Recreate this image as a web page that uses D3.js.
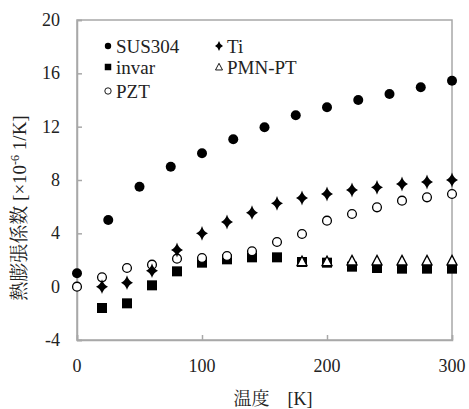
<!DOCTYPE html>
<html><head><meta charset="utf-8">
<script src="https://cdn.jsdelivr.net/npm/d3@7"></script>
<style>
body{margin:0;background:#fff;}
svg{display:block;}
svg text{font-family:"Liberation Serif","Noto Serif CJK JP","Noto Sans CJK JP",serif;}
</style>
</head><body>
<svg id="c" width="469" height="409"></svg>
<script>
const xTicks = [0, 100, 200, 300];
const yTicks = [-4, 0, 4, 8, 12, 16, 20];

const susX = [0, 25, 50, 75, 100, 125, 150, 175, 200, 225, 250, 275, 300];
const susY = [1.0, 5.0, 7.5, 9.0, 10.0, 11.05, 11.95, 12.85, 13.45, 14.0, 14.45, 14.95, 15.45];
const tiX = [20, 40, 60, 80, 100, 120, 140, 160, 180, 200, 220, 240, 260, 280, 300];
const tiY = [0.0, 0.3, 1.2, 2.75, 4.0, 4.85, 5.55, 6.25, 6.65, 6.95, 7.25, 7.45, 7.7, 7.85, 8.0];
const invarX = [20, 40, 60, 80, 100, 120, 140, 160, 180, 200, 220, 240, 260, 280, 300];
const invarY = [-1.6, -1.25, 0.1, 1.15, 1.8, 2.05, 2.2, 2.2, 1.85, 1.8, 1.5, 1.4, 1.35, 1.35, 1.35];
const pmnX = [180, 200, 220, 240, 260, 280, 300];
const pmnY = [1.9, 1.9, 1.95, 1.95, 1.95, 1.95, 1.95];
const pztX = [0, 20, 40, 60, 80, 100, 120, 140, 160, 180, 200, 220, 240, 260, 280, 300];
const pztY = [0.0, 0.7, 1.4, 1.65, 2.1, 2.15, 2.3, 2.65, 3.35, 3.95, 4.95, 5.45, 5.95, 6.45, 6.7, 6.95];

const svg = d3.select("#c");
const x = d3.scaleLinear().domain([0, 300]).range([77, 452]);
const y = d3.scaleLinear().domain([-4, 20]).range([340, 20]);
const frameColor = "#a8a8a8";
const txt = "#222";

// frame
svg.append("rect").attr("x", x(0)).attr("y", y(20))
  .attr("width", x(300) - x(0)).attr("height", y(-4) - y(20))
  .attr("fill", "none").attr("stroke", frameColor).attr("stroke-width", 1.5);

// axes (ticks inward)
const gx = svg.append("g").attr("transform", `translate(0,${y(-4)})`)
  .call(d3.axisTop(x).tickValues(xTicks).tickSize(5).tickFormat(""));
const gy = svg.append("g").attr("transform", `translate(${x(0)},0)`)
  .call(d3.axisRight(y).tickValues(yTicks).tickSize(5).tickFormat(""));
[gx, gy].forEach(g => {
  g.select(".domain").attr("stroke", frameColor).attr("stroke-width", 1.5);
  g.selectAll(".tick line").attr("stroke", frameColor).attr("stroke-width", 1.5);
});

// tick labels
svg.append("g").selectAll("text").data(xTicks).join("text")
  .attr("x", d => x(d)).attr("y", 372).attr("text-anchor", "middle")
  .style("font-size", "18px").attr("fill", txt)
  .text(d => d);
svg.append("g").selectAll("text").data(yTicks).join("text")
  .attr("x", 60).attr("y", d => y(d) + 6).attr("text-anchor", "end")
  .style("font-size", "18px").attr("fill", txt)
  .text(d => d);

// axis titles
svg.append("text").attr("x", 273).attr("y", 405).attr("text-anchor", "middle")
  .style("font-size", "18px").attr("fill", txt)
  .text("温度　[K]");
const yl = svg.append("text").attr("transform", "translate(26,208) rotate(-90)")
  .attr("text-anchor", "middle").style("font-size", "19px").attr("fill", txt);
yl.append("tspan").text("熱膨張係数 [×10");
yl.append("tspan").style("font-size", "12px").attr("dy", -7).text("-6");
yl.append("tspan").attr("dy", 7).text(" 1/K]");

// markers
const diamondPath = (s) => {
  const h = s * 0.62, w = s * 0.5;
  return `M0,${-h}Q${w*0.25},${-h*0.25} ${w},0Q${w*0.25},${h*0.25} 0,${h}Q${-w*0.25},${h*0.25} ${-w},0Q${-w*0.25},${-h*0.25} 0,${-h}Z`;
};
const squarePath = (s) => { const r = s / 2; return `M${-r},${-r}H${r}V${r}H${-r}Z`; };
const triPath = (s) => { const r = s / 2; return `M0,${-r*1.05}L${r},${r*0.85}L${-r},${r*0.85}Z`; };

function drawSeries(xs, ys, kind, size) {
  const g = svg.append("g");
  const data = xs.map((v, i) => [v, ys[i]]);
  if (kind === "circle" || kind === "ocircle") {
    g.selectAll("circle").data(data).join("circle")
      .attr("cx", d => x(d[0])).attr("cy", d => y(d[1])).attr("r", kind === "circle" ? size / 2 : size / 2 - 0.6)
      .attr("fill", kind === "circle" ? "#000" : "#fff")
      .attr("stroke", "#000").attr("stroke-width", kind === "circle" ? 0 : 1.3);
  } else {
    const p = kind === "diamond" ? diamondPath(size) : kind === "square" ? squarePath(size) : triPath(size);
    g.selectAll("path").data(data).join("path")
      .attr("transform", d => `translate(${x(d[0])},${y(d[1])})`).attr("d", p)
      .attr("fill", kind === "tri" ? "#fff" : "#000")
      .attr("stroke", "#000").attr("stroke-width", kind === "tri" ? 1.3 : 0);
  }
}
drawSeries(susX, susY, "circle", 10);
drawSeries(invarX, invarY, "square", 10);
drawSeries(pztX, pztY, "ocircle", 10);
drawSeries(tiX, tiY, "diamond", 12);
drawSeries(pmnX, pmnY, "tri", 10);

// legend
const legend = [
  {label: "SUS304", kind: "circle", lx: 108, ly: 46},
  {label: "invar", kind: "square", lx: 108, ly: 67},
  {label: "PZT", kind: "ocircle", lx: 108, ly: 91},
  {label: "Ti", kind: "diamond", lx: 219, ly: 46},
  {label: "PMN-PT", kind: "tri", lx: 219, ly: 67},
];
legend.forEach(l => {
  const g = svg.append("g").attr("transform", `translate(${l.lx},${l.ly})`);
  if (l.kind === "circle" || l.kind === "ocircle") {
    g.append("circle").attr("r", 3.2).attr("fill", l.kind === "circle" ? "#000" : "#fff")
      .attr("stroke", "#000").attr("stroke-width", l.kind === "circle" ? 0 : 0.9);
  } else {
    const p = l.kind === "diamond" ? diamondPath(8) : l.kind === "square" ? squarePath(6.5) : triPath(7);
    g.append("path").attr("d", p).attr("fill", l.kind === "tri" ? "#fff" : "#000")
      .attr("stroke", "#000").attr("stroke-width", l.kind === "tri" ? 0.9 : 0);
  }
  g.append("text").attr("x", 8).attr("y", 6.5).style("font-size", "19px")
    .attr("fill", txt).text(l.label);
});
</script>
</body></html>
